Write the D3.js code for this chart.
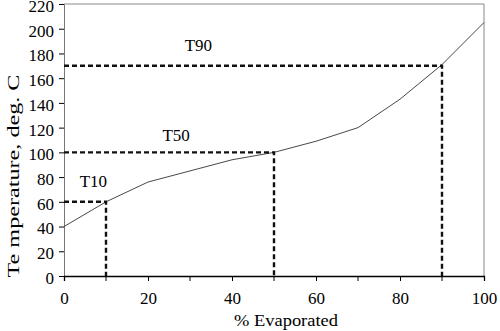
<!DOCTYPE html>
<html>
<head>
<meta charset="utf-8">
<script src="https://cdn.jsdelivr.net/npm/d3@7"></script>
<style>
  body { margin: 0; background: #fff; }
  text { font-family: "Liberation Serif", "Times New Roman", serif; fill: #000; }
</style>
</head>
<body>
<svg id="chart" width="500" height="331"></svg>
<script>
// data
const evaporated = [0, 10, 20, 30, 40, 50, 60, 70, 80, 90, 100];
const temperature = [40, 60, 76, 85, 94, 100, 109, 120, 143, 171, 205];
const markerLabels = ["T10", "T50", "T90"];
const markerPct = [10, 50, 90];
const markerTemp = [60, 100, 170];
const xTicks = [0, 20, 40, 60, 80, 100];
const xMinor = [10, 30, 50, 70, 90];
const yTicks = [0, 20, 40, 60, 80, 100, 120, 140, 160, 180, 200, 220];

let markers = markerLabels.map(function (l, i) {
    return { label: l, pct: markerPct[i], temp: markerTemp[i] };
});

let svg = d3.select("#chart");

let x = d3.scaleLinear().domain([0, 100]).range([64, 484]);
let y = d3.scaleLinear().domain([0, 220]).range([276, 4]);

// gray top + right border
svg.append("path")
    .attr("d", "M" + x(0) + "," + y(220) + "H" + x(100) + "V" + y(0))
    .attr("fill", "none")
    .attr("stroke", "#888")
    .attr("stroke-width", 1);

// y axis
let yAxis = svg.append("g")
    .attr("transform", "translate(" + x(0) + ",0)")
    .call(d3.axisLeft(y).tickValues(yTicks).tickSize(5).tickPadding(5));
yAxis.select(".domain").attr("stroke", "#777");
yAxis.selectAll(".tick line").attr("stroke", "#000");
yAxis.selectAll(".tick text")
    .attr("y", 2) // labels sit a little below their tick
    .style("font-family", "Liberation Serif")
    .style("font-size", "17px");

// x axis (labels every 20, ticks every 10)
let xAxis = svg.append("g")
    .attr("transform", "translate(0," + y(0) + ")")
    .call(d3.axisBottom(x).tickValues(xTicks).tickSize(5).tickPadding(11));
xAxis.select(".domain").attr("stroke", "#000").attr("stroke-width", 1.3);
xAxis.selectAll(".tick text")
    .style("font-family", "Liberation Serif")
    .style("font-size", "17px");
svg.append("g")
    .selectAll("line")
    .data(xMinor)
    .enter().append("line")
    .attr("x1", function (d) { return x(d); })
    .attr("x2", function (d) { return x(d); })
    .attr("y1", y(0))
    .attr("y2", y(0) + 5)
    .attr("stroke", "#000");

// the distillation curve
let line = d3.line()
    .x(function (d, i) { return x(evaporated[i]); })
    .y(function (d) { return y(d); });

svg.append("path")
    .datum(temperature)
    .attr("d", line)
    .attr("fill", "none")
    .attr("stroke", "#333")
    .attr("stroke-width", 0.9);

// dashed guide lines
svg.append("g")
    .selectAll("path")
    .data(markers)
    .enter().append("path")
    .attr("d", function (d) {
        return "M" + x(0) + "," + y(d.temp) + "H" + x(d.pct) + "V" + y(0);
    })
    .attr("fill", "none")
    .attr("stroke", "#111")
    .attr("stroke-width", 2.4)
    .attr("stroke-dasharray", "5,3");

// T labels above their dashed line (label spot in % along x)
let labelSpot = { T10: 7, T50: 26.7, T90: 32 };
let labelLift = { T10: 15, T50: 11, T90: 15 };
svg.append("g")
    .selectAll("text")
    .data(markers)
    .enter().append("text")
    .attr("x", function (d) { return x(labelSpot[d.label]); })
    .attr("y", function (d) { return y(d.temp) - labelLift[d.label]; })
    .attr("text-anchor", "middle")
    .style("font-size", "17px")
    .text(function (d) { return d.label; });

// axis titles
svg.append("text")
    .attr("x", 286)
    .attr("y", 326)
    .attr("text-anchor", "middle")
    .attr("textLength", 104)
    .attr("lengthAdjust", "spacingAndGlyphs")
    .style("font-size", "17px")
    .text("% Evaporated");

svg.append("text")
    .attr("transform", "translate(19,176) rotate(-90)")
    .attr("text-anchor", "middle")
    .attr("textLength", 203)
    .attr("lengthAdjust", "spacingAndGlyphs")
    .style("font-size", "17px")
    .text("Te mperature, deg. C");
</script>
</body>
</html>
